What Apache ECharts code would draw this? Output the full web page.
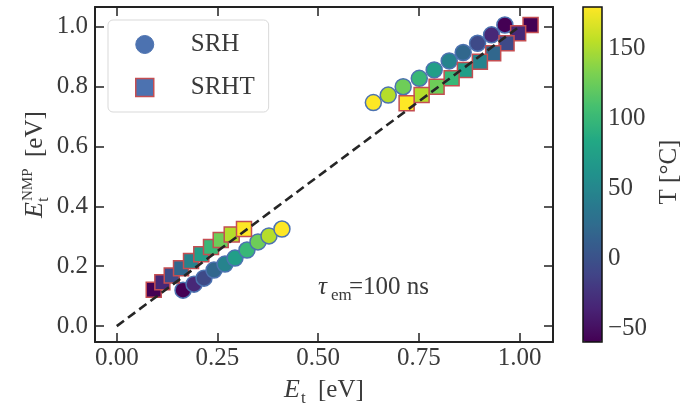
<!DOCTYPE html>
<html>
<head>
<meta charset="utf-8">
<script src="https://cdn.jsdelivr.net/npm/echarts@6/dist/echarts.min.js"></script>
<style>html,body{margin:0;padding:0;background:#fff}#c{width:687px;height:408px}</style>
</head>
<body>
<div id="c"></div>
<script>
// Temperatures (°C) of the ten points in each group
const temps = [-60, -33.3, -6.7, 20, 46.7, 73.3, 100, 126.7, 153.3, 180];
// SRH, low-Et group (ordered by temperature)
const srhLowX = [0.1645, 0.1918, 0.2166, 0.2414, 0.2687, 0.2935, 0.3233, 0.3506, 0.3779, 0.4101];
const srhLowY = [0.120, 0.140, 0.160, 0.187, 0.207, 0.227, 0.254, 0.281, 0.301, 0.324];
// SRH, high-Et group (ordered by temperature)
const srhHighX = [0.9635, 0.9305, 0.8958, 0.860, 0.8253, 0.788, 0.751, 0.711, 0.674, 0.637];
const srhHighY = [1.005, 0.972, 0.944, 0.913, 0.885, 0.855, 0.827, 0.799, 0.771, 0.746];
// SRHT, low-Et group
const srhtLowX = [0.0918, 0.1132, 0.1365, 0.1596, 0.1844, 0.2099, 0.234, 0.2581, 0.2854, 0.3159];
const srhtLowY = [0.121, 0.146, 0.169, 0.193, 0.217, 0.240, 0.264, 0.287, 0.306, 0.324];
// SRHT, high-Et group
const srhtHighX = [1.0273, 0.9965, 0.9677, 0.9345, 0.9015, 0.8643, 0.8313, 0.794, 0.7568, 0.7196];
const srhtHighY = [1.005, 0.977, 0.944, 0.911, 0.882, 0.855, 0.827, 0.799, 0.771, 0.744];
// identity line
const diagX = [0, 1.0];
const diagY = [0, 1.0];
// ticks
const xTicks = [0, 0.25, 0.5, 0.75, 1.0];
const yTicks = [0, 0.2, 0.4, 0.6, 0.8, 1.0];
const cbTicks = [-50, 0, 50, 100, 150];
const seriesNames = ['SRH', 'SRHT'];

const viridis = ['#440154','#482475','#414487','#355f8d','#2a788e','#21918c','#22a884','#44bf70','#7ad151','#bddf26','#fde725'];
const FF = '"Liberation Serif", "DejaVu Serif", serif';
const TXT = '#3a3a3a';

function pts(xs, ys) { return xs.map((x, i) => [x, ys[i], temps[i]]); }
const srhData = pts(srhLowX, srhLowY).concat(pts(srhHighX, srhHighY));
const srhtData = pts(srhtLowX, srhtLowY).concat(pts(srhtHighX, srhtHighY));

const spine = {show: true, onZero: false, lineStyle: {color: '#222', width: 2}};
const tick = (vals) => ({show: true, inside: true, length: 9, customValues: vals, lineStyle: {color: '#222', width: 1.5}});

const chart = echarts.init(document.getElementById('c'), null, {renderer: 'canvas'});

function t(txt, x, y, size, italic) {
  return {type: 'text', x: x, y: y - 0.34 * size,
    style: {text: txt, font: (italic ? 'italic ' : '') + size + 'px ' + FF, fill: TXT, align: 'left', verticalAlign: 'middle'}};
}

chart.setOption({
  animation: false,
  backgroundColor: '#fff',
  grid: [
    {left: 95, right: 134, top: 7, bottom: 66, show: false},
    {left: 583, top: 7, width: 19, height: 335, show: true, borderColor: '#111', borderWidth: 1.5, backgroundColor: 'transparent', z: 10}
  ],
  xAxis: [
    {type: 'value', gridIndex: 0, min: -0.054, max: 1.083, position: 'bottom', axisLine: spine, axisTick: tick(xTicks),
      axisLabel: {customValues: xTicks, formatter: v => v.toFixed(2), fontSize: 25, fontFamily: FF, color: TXT, margin: 4}, splitLine: {show: false}},
    {type: 'value', gridIndex: 0, min: -0.054, max: 1.083, position: 'top', axisLine: spine, axisTick: tick(xTicks),
      axisLabel: {show: false}, splitLine: {show: false}},
    {type: 'value', gridIndex: 1, min: 0, max: 1, show: false}
  ],
  yAxis: [
    {type: 'value', gridIndex: 0, min: -0.053, max: 1.065, position: 'left', axisLine: spine, axisTick: tick(yTicks),
      axisLabel: {customValues: yTicks, formatter: v => v.toFixed(1), fontSize: 25, fontFamily: FF, color: TXT, margin: 7}, splitLine: {show: false}},
    {type: 'value', gridIndex: 0, min: -0.053, max: 1.065, position: 'right', axisLine: spine, axisTick: tick(yTicks),
      axisLabel: {show: false}, splitLine: {show: false}},
    {type: 'value', gridIndex: 1, min: -60, max: 180, position: 'right', axisLine: {show: false}, axisTick: {show: false},
      axisLabel: {customValues: cbTicks, formatter: v => String(v).replace('-', '\u2212'), fontSize: 25, fontFamily: FF, color: TXT, margin: 6},
      splitLine: {show: false}}
  ],
  visualMap: {
    type: 'continuous', min: -60, max: 180, dimension: 2, seriesIndex: [0, 1],
    inRange: {color: viridis}, show: true, calculable: false,
    itemWidth: 19, itemHeight: 335, left: 583, top: 7, padding: 0
  },
  legend: {
    left: 108, top: 20, orient: 'vertical',
    backgroundColor: '#fff', borderColor: '#d9d9d9', borderWidth: 1, borderRadius: 5,
    padding: [12, 14, 12, 27], itemGap: 18, itemWidth: 18, itemHeight: 18,
    textStyle: {fontSize: 25, fontFamily: FF, color: TXT, padding: [0, 0, 0, 32]},
    data: [
      {name: seriesNames[0], icon: 'circle', itemStyle: {color: '#4C72B0', borderColor: '#4C72B0', borderWidth: 1}},
      {name: seriesNames[1], icon: 'rect', itemStyle: {color: '#4C72B0', borderColor: '#C44E52', borderWidth: 1.5}}
    ]
  },
  series: [
    {name: seriesNames[0], type: 'scatter', xAxisIndex: 0, yAxisIndex: 0, symbol: 'circle', symbolSize: 16,
      itemStyle: {borderColor: '#4C72B0', borderWidth: 1.5, opacity: 1}, data: srhData, z: 2},
    {name: seriesNames[1], type: 'scatter', xAxisIndex: 0, yAxisIndex: 0, symbol: 'rect', symbolSize: 15,
      itemStyle: {borderColor: '#C44E52', borderWidth: 1.5, opacity: 1}, data: srhtData, z: 3},
    {name: 'diag', type: 'line', xAxisIndex: 0, yAxisIndex: 0, symbol: 'none', silent: true,
      lineStyle: {color: '#262626', width: 2.6, type: [9, 5]}, data: diagX.map((x, i) => [x, diagY[i]]), z: 5}
  ],
  graphic: [
    {type: 'group', x: 44, y: 218, rotation: Math.PI / 2, children: [
      t('E', 0, 0, 26, true),
      t('t', 16, 5, 17, false),
      t('NMP', 17, -11, 15, false),
      t('[eV]', 61, 0, 25, false)
    ]},
    {type: 'group', x: 0, y: 0, children: [
      t('E', 284, 399, 26, true),
      t('t', 301, 404, 17, false),
      t('[eV]', 318, 399, 25, false)
    ]},
    {type: 'group', x: 0, y: 0, children: [
      t('\u03c4', 318, 296, 25, true),
      t('em', 331, 301, 17, false),
      t('=100 ns', 349, 296, 25, false)
    ]},
    {type: 'text', x: 669, y: 172, rotation: Math.PI / 2,
      style: {text: 'T [°C]', font: '25px ' + FF, fill: TXT, align: 'center', verticalAlign: 'middle'}}
  ]
});
</script>
</body>
</html>
